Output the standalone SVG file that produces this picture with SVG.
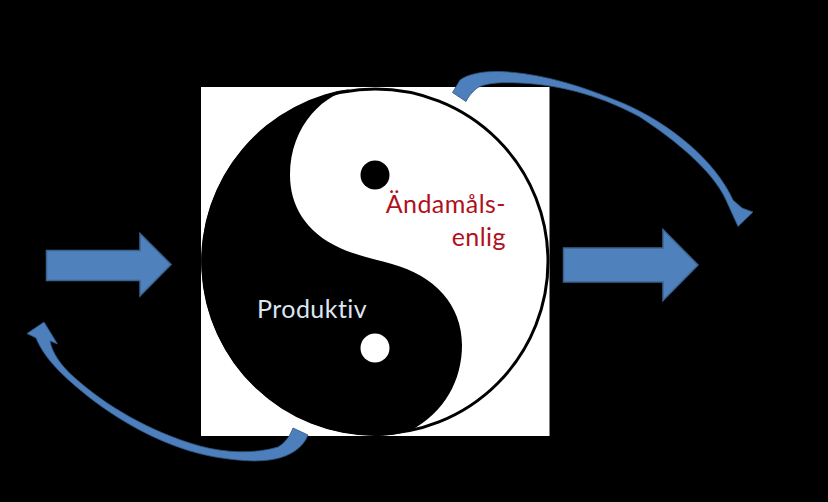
<svg xmlns="http://www.w3.org/2000/svg" width="828" height="502" viewBox="0 0 828 502">
<defs>
<style>
.arrow{fill:#4f81bd;stroke:#3c6491;stroke-width:1.5;stroke-linejoin:miter}
.curve{fill:#4c7fbc;stroke:#2f5580;stroke-width:.8;stroke-linejoin:round}
.label{font-family:Lato,"Open Sans",sans-serif;font-size:25px;font-variant-ligatures:none;letter-spacing:.45px}
</style>
</defs>
<rect id="background" width="828" height="502" fill="#000"/>
<g id="yinyang">
<rect x="201" y="87" width="348.500" height="349" fill="#fff"/>
<circle cx="375.500" cy="261.500" r="172.500" fill="#fff" stroke="#000" stroke-width="3"/>
<path d="M357 88C325 92 290 125 290 175C290 205 305 232 340 248C358 256 375 259 392 264C435 276 462 305 462 345C462 380 445 412 410 431C400 434 385 436 375.500 436A174.500 174.500 0 0 1 357 88Z" fill="#000"/>
<circle cx="375" cy="175" r="14.500" fill="#000"/>
<circle cx="375" cy="348" r="14.500" fill="#fff"/>
</g>
<g id="label-produktiv"><text class="label" x="257" y="318" fill="#dce6f2">Produktiv</text></g>
<g id="label-andamals">
<text class="label" x="506" y="213" text-anchor="end" fill="#b0101c">Ändamåls-</text>
<text class="label" x="506" y="246" text-anchor="end" fill="#b0101c">enlig</text>
</g>
<g id="connectors">
<path id="arrow-in" class="arrow" d="M46.500 250.500H140V233.500L171 264.500L140 296V280.500H46.500Z"/>
<path id="arrow-out" class="arrow" d="M563.500 248H663V229.500L698 265L663 300.500V282H563.500Z"/>
<path id="curve-top" class="curve" d="M452.500 92.500L460 80C468 74 483 71 500 71.500C540 73 580 85 625 104C670 124 715 160 733 200L742 208L753 212L738 226.500L725.500 199C712 170 675 140 640 117C605 98 565 85 520 83C500 82 485 83 477 88C472 92 468 97 466 101.500Z"/>
<path id="curve-bottom" class="curve" d="M293 428L308 435C303 448 290 456 275 459C255 463 235 460 215 457C170 449 125 425 90 398C65 378 45 360 36 338L27 333.500L44 322L57.500 344L50 341C52 352 60 365 75 378C105 405 150 432 200 446C225 453 255 454 278 447C285 443 290 436 293 428Z"/>
</g>
</svg>
